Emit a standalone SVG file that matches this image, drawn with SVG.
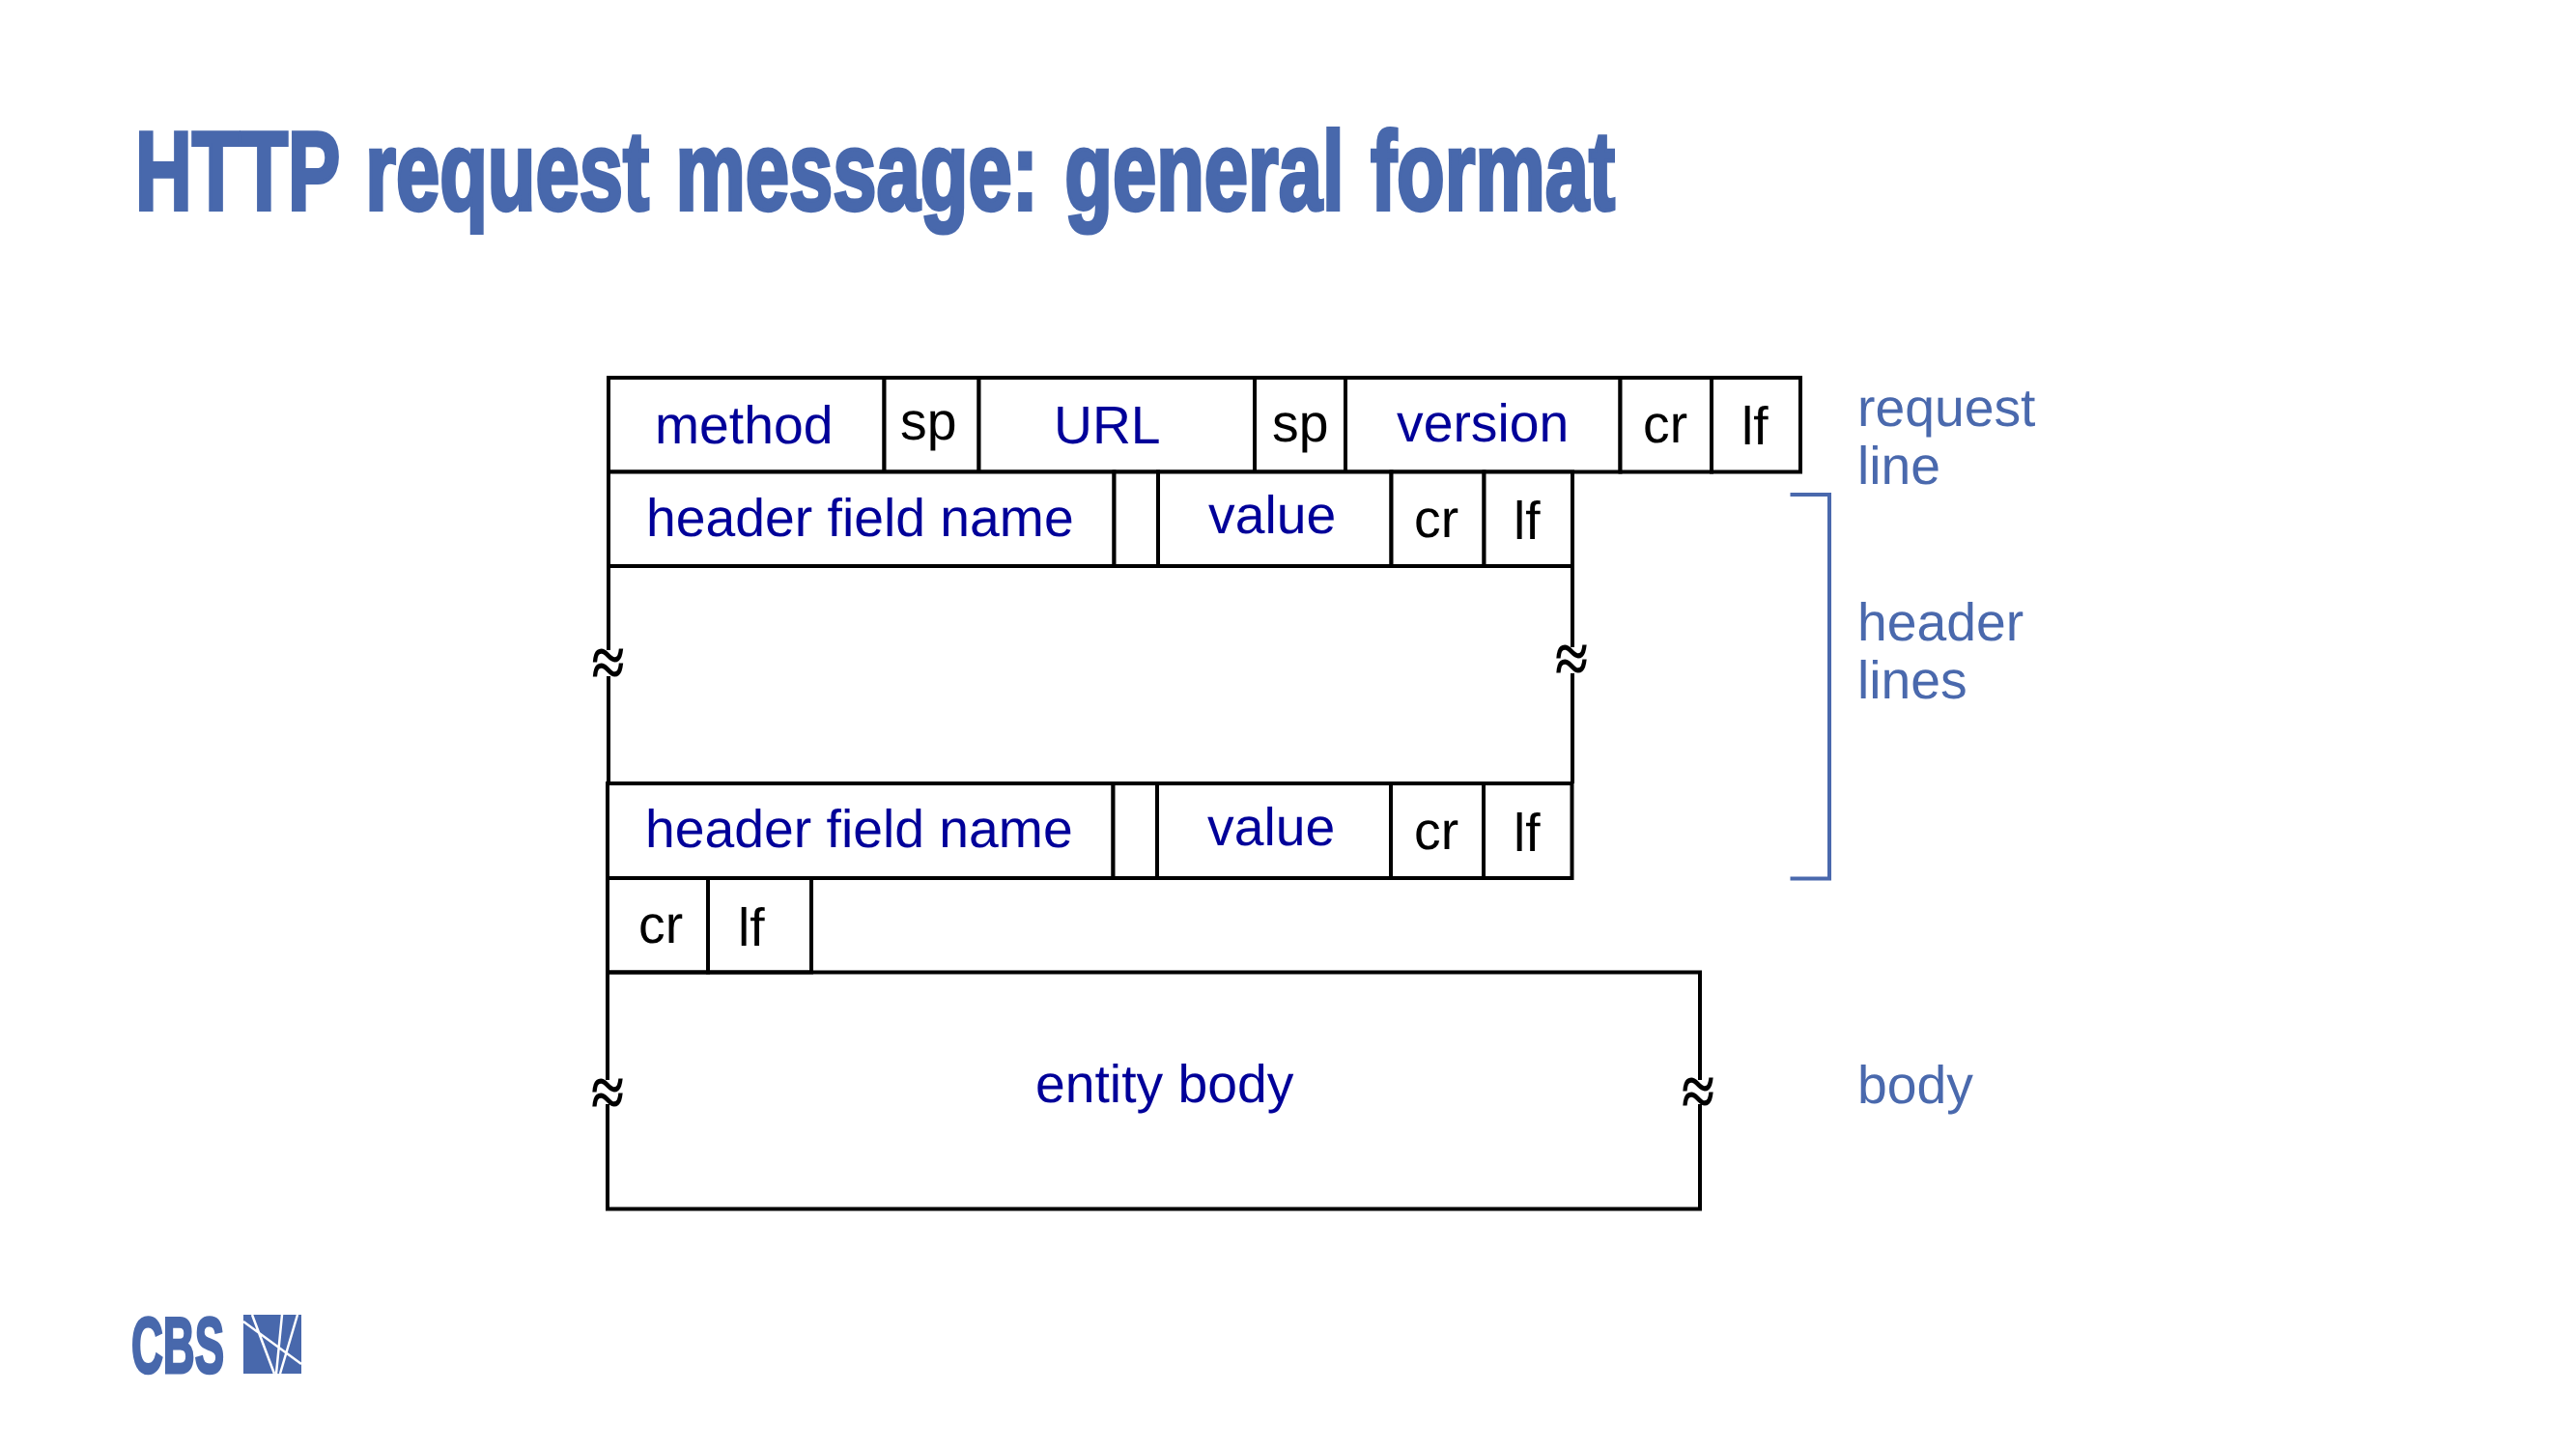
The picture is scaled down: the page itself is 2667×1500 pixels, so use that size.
<svg xmlns="http://www.w3.org/2000/svg" width="2667" height="1500" viewBox="0 0 2667 1500">
<style>
text{font-family:"Liberation Sans",Arial,sans-serif;font-size:55.3px;text-rendering:geometricPrecision}
.c{fill:#fff;stroke:#000;stroke-width:4}
.k{fill:#000}
.b{fill:#000099}
.l{fill:#4a69ad}
.s{fill:none;stroke:#000;stroke-width:4}
.w{font-family:"Liberation Serif",serif;font-size:62px;font-weight:bold;fill:#000;text-anchor:middle}
.t{font-family:"Liberation Sans Narrow","Liberation Sans",sans-serif;fill:#4868ac;stroke:#4868ac;font-weight:bold;font-size:116px;stroke-width:4}
.g{font-size:82px;stroke-width:3}
</style>
<rect width="2667" height="1500" fill="#fff"/>
<g id="title">
<text class="t" x="140" y="217" word-spacing="7" textLength="1532" lengthAdjust="spacingAndGlyphs">HTTP request message: general format</text>
</g>
<g id="r1-method"><rect class="c" x="630" y="391" width="285.500" height="97.500"/><text class="b" x="678" y="459">method</text></g>
<g id="r1-sp1"><rect class="c" x="915.500" y="391" width="98" height="97.500"/><text class="k" x="932" y="455">sp</text></g>
<g id="r1-url"><rect class="c" x="1013.500" y="391" width="285.500" height="97.500"/><text class="b" x="1091" y="459">URL</text></g>
<g id="r1-sp2"><rect class="c" x="1299" y="391" width="94" height="97.500"/><text class="k" x="1317" y="456.500">sp</text></g>
<g id="r1-version"><rect class="c" x="1393" y="391" width="284.500" height="97.500"/><text class="b" x="1446" y="456.500">version</text></g>
<g id="r1-cr"><rect class="c" x="1677.500" y="391" width="94.500" height="97.500"/><text class="k" x="1701" y="458">cr</text></g>
<g id="r1-lf"><rect class="c" x="1772" y="391" width="92" height="97.500"/><text class="k" x="1803" y="460">lf</text></g>
<g id="r2-name"><rect class="c" x="630" y="488.500" width="523.500" height="97.500"/><text class="b" x="669" y="554.500">header field name</text></g>
<g id="r2-gap"><rect class="c" x="1153.500" y="488.500" width="45.500" height="97.500"/></g>
<g id="r2-value"><rect class="c" x="1199" y="488.500" width="241.500" height="97.500"/><text class="b" x="1251" y="551.500">value</text></g>
<g id="r2-cr"><rect class="c" x="1440.500" y="488.500" width="96" height="97.500"/><text class="k" x="1464" y="556">cr</text></g>
<g id="r2-lf"><rect class="c" x="1536.500" y="488.500" width="91.500" height="97.500"/><text class="k" x="1567" y="558">lf</text></g>
<g id="r3-name"><rect class="c" x="629" y="811" width="523.500" height="98"/><text class="b" x="668" y="877">header field name</text></g>
<g id="r3-gap"><rect class="c" x="1152.500" y="811" width="45.500" height="98"/></g>
<g id="r3-value"><rect class="c" x="1198" y="811" width="242" height="98"/><text class="b" x="1250" y="875">value</text></g>
<g id="r3-cr"><rect class="c" x="1440" y="811" width="96" height="98"/><text class="k" x="1464" y="879">cr</text></g>
<g id="r3-lf"><rect class="c" x="1536" y="811" width="91.500" height="98"/><text class="k" x="1567" y="881">lf</text></g>
<g id="r4-cr"><rect class="c" x="629" y="909" width="104" height="97.500"/><text class="k" x="661" y="976">cr</text></g>
<g id="r4-lf"><rect class="c" x="733" y="909" width="107" height="97.500"/><text class="k" x="764" y="979">lf</text></g>
<g id="body-box"><path class="s" d="M629 1118V1006.500H1760V1118M1760 1143V1251.500H629V1143"/><text class="b" x="1072" y="1141">entity body</text></g>
<g id="labels">
<text class="l" x="1923" y="441">request</text><text class="l" x="1923" y="501">line</text>
<text class="l" x="1923" y="663">header</text><text class="l" x="1923" y="723">lines</text>
<text class="l" x="1923" y="1142">body</text>
</g>
<g id="connectors">
<path class="s" d="M630 586V673M630 700V811M1628 586V670M1628 697V811"/>
<path fill="none" stroke="#4a69ad" stroke-width="4" d="M1853.500 512H1894V909.500H1853.500"/>
<text class="w" transform="translate(629.500 694) scale(1 1.2)" y="14">≈</text>
<text class="w" transform="translate(1627 690) scale(1 1.2)" y="14">≈</text>
<text class="w" transform="translate(629 1139) scale(1 1.2)" y="14">≈</text>
<text class="w" transform="translate(1758 1138) scale(1 1.2)" y="14">≈</text>
</g>
<g id="logo">
<text class="t g" x="136" y="1421" textLength="96" lengthAdjust="spacingAndGlyphs">CBS</text>
<rect x="252" y="1361" width="60" height="61" fill="#4868ac"/>
<path fill="none" stroke="#fff" stroke-width="2.500" d="M252 1368L312 1412M261 1361L284 1422M308 1361L290 1422M292 1361L286 1422"/>
</g>
</svg>
